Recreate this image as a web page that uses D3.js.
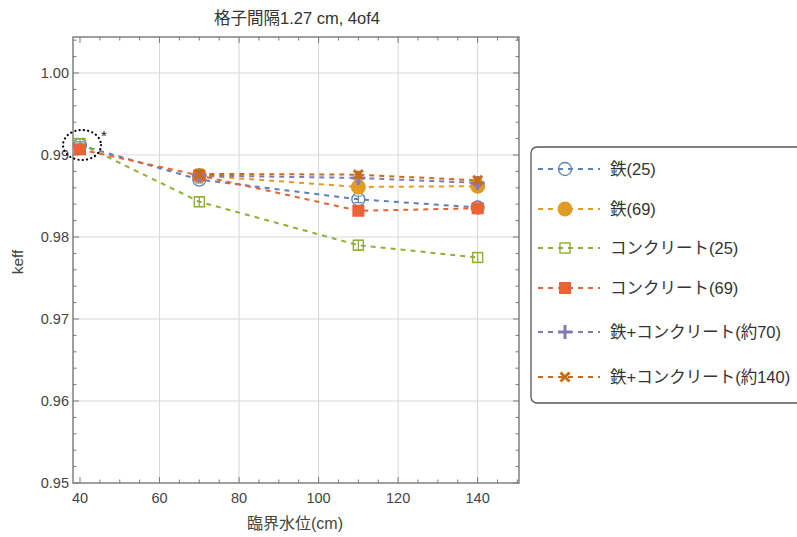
<!DOCTYPE html>
<html>
<head>
<meta charset="utf-8">
<script src="https://cdn.jsdelivr.net/npm/d3@7"></script>
<style>
  body { margin: 0; background: #fff; }
  text { font-family: "Liberation Sans", "Noto Sans CJK JP", sans-serif; }
</style>
</head>
<body>
<div id="chart"></div>
<script>
// data
var seriesNames = ["鉄(25)", "鉄(69)", "コンクリート(25)", "コンクリート(69)", "鉄+コンクリート(約70)", "鉄+コンクリート(約140)"];
var colors = ["#5e81b5", "#e19c24", "#8fb032", "#eb6235", "#8778b3", "#c56e1a"];
var symbols = ["openCircle", "circle", "openSquare", "square", "plus", "cross"];

var iron25 = [[40, 0.9912], [70, 0.9870], [110, 0.9846], [140, 0.9836]];
var iron69 = [[70, 0.9875], [110, 0.9861], [140, 0.9862]];
var conc25 = [[40, 0.9914], [70, 0.9843], [110, 0.9790], [140, 0.9775]];
var conc69 = [[40, 0.9907], [70, 0.9875], [110, 0.9832], [140, 0.9835]];
var ironConc70 = [[70, 0.9875], [110, 0.9872], [140, 0.9866]];
var ironConc140 = [[70, 0.9877], [110, 0.9876], [140, 0.9869]];
var errs = [0.0004, 0.0004, 0.0006, 0.0004, 0.0004, 0.0004];
var allSeries = [iron25, iron69, conc25, conc69, ironConc70, ironConc140];

var xTicks = [40, 60, 80, 100, 120, 140];
var yTicks = [0.95, 0.96, 0.97, 0.98, 0.99, 1.00];

var W = 797, H = 537;
var pLeft = 73, pRight = 519, pTop = 37, pBottom = 483;

var svg = d3.select("#chart").append("svg")
  .attr("width", W).attr("height", H);

var x = d3.scaleLinear().domain([38.24, 150.4]).range([pLeft, pRight]);
var y = d3.scaleLinear().domain([0.95, 1.00439]).range([pBottom, pTop]);

// grid
svg.append("g").selectAll("line").data(xTicks.slice(1)).enter().append("line")
  .attr("x1", function(d) { return x(d); }).attr("x2", function(d) { return x(d); })
  .attr("y1", pTop).attr("y2", pBottom)
  .attr("stroke", "#d8d8d8").attr("stroke-width", 1);
svg.append("g").selectAll("line").data(yTicks.slice(1)).enter().append("line")
  .attr("x1", pLeft).attr("x2", pRight)
  .attr("y1", function(d) { return y(d); }).attr("y2", function(d) { return y(d); })
  .attr("stroke", "#d8d8d8").attr("stroke-width", 1);

// ticks on all four sides
var tickCol = "#777";
var xMinor = d3.range(40, 151, 5);
var yMinor = d3.range(0, 28).map(function(i) { return 0.95 + i * 0.002; });

function isMajorX(d) { return d % 20 === 0; }
function isMajorY(d) { return Math.abs(Math.round(d * 100) - d * 100) < 1e-6; }

var tk = svg.append("g").attr("stroke", tickCol).attr("stroke-width", 1);
xMinor.forEach(function(d) {
  var len = isMajorX(d) ? 6 : 3.5;
  tk.append("line").attr("x1", x(d)).attr("x2", x(d)).attr("y1", pBottom).attr("y2", pBottom - len);
  tk.append("line").attr("x1", x(d)).attr("x2", x(d)).attr("y1", pTop).attr("y2", pTop + len);
});
yMinor.forEach(function(d) {
  if (y(d) < pTop) return;
  var len = isMajorY(d) ? 6 : 3.5;
  tk.append("line").attr("x1", pLeft).attr("x2", pLeft + len).attr("y1", y(d)).attr("y2", y(d));
  tk.append("line").attr("x1", pRight).attr("x2", pRight - len).attr("y1", y(d)).attr("y2", y(d));
});

svg.append("rect")
  .attr("x", pLeft).attr("y", pTop)
  .attr("width", pRight - pLeft).attr("height", pBottom - pTop)
  .attr("fill", "none").attr("stroke", "#808080").attr("stroke-width", 1.5);

// tick labels
svg.append("g").selectAll("text").data(xTicks).enter().append("text")
  .attr("x", function(d) { return x(d); }).attr("y", pBottom + 20)
  .attr("text-anchor", "middle").attr("font-size", 14.5).attr("fill", "#444")
  .text(function(d) { return d; });
svg.append("g").selectAll("text").data(yTicks).enter().append("text")
  .attr("x", pLeft - 4).attr("y", function(d) { return y(d) + 5; })
  .attr("text-anchor", "end").attr("font-size", 14.5).attr("fill", "#444")
  .text(function(d) { return d3.format(".2f")(d); });

// labels
svg.append("text").attr("x", 297).attr("y", 24).attr("text-anchor", "middle")
  .attr("font-size", 16.5).attr("fill", "#333").text("格子間隔1.27 cm, 4of4");
svg.append("text").attr("x", 295).attr("y", 529).attr("text-anchor", "middle")
  .attr("font-size", 16).attr("fill", "#444").text("臨界水位(cm)");
svg.append("text").attr("transform", "translate(23,262) rotate(-90)")
  .attr("text-anchor", "middle").attr("font-size", 15.5).attr("fill", "#444").text("keff");

// markers
function drawMarker(g, type, color, cx, cy) {
  if (type === "openCircle") {
    g.append("circle").attr("cx", cx).attr("cy", cy).attr("r", 6.5)
      .attr("fill", "none").attr("stroke", color).attr("stroke-width", 1.3);
  } else if (type === "circle") {
    g.append("circle").attr("cx", cx).attr("cy", cy).attr("r", 7.5).attr("fill", color);
  } else if (type === "openSquare") {
    g.append("rect").attr("x", cx - 5).attr("y", cy - 5).attr("width", 10).attr("height", 10)
      .attr("fill", "none").attr("stroke", color).attr("stroke-width", 1.4);
  } else if (type === "square") {
    g.append("rect").attr("x", cx - 6).attr("y", cy - 6).attr("width", 12).attr("height", 12)
      .attr("fill", color);
  } else if (type === "plus") {
    g.append("path").attr("d", "M" + (cx - 7) + "," + cy + "H" + (cx + 7) + "M" + cx + "," + (cy - 7) + "V" + (cy + 7))
      .attr("stroke", color).attr("stroke-width", 3);
  } else if (type === "cross") {
    g.append("path").attr("d", "M" + (cx - 4.5) + "," + (cy - 4.5) + "L" + (cx + 4.5) + "," + (cy + 4.5) +
      "M" + (cx - 4.5) + "," + (cy + 4.5) + "L" + (cx + 4.5) + "," + (cy - 4.5))
      .attr("stroke", color).attr("stroke-width", 3);
  }
}

var line = d3.line().x(function(d) { return x(d[0]); }).y(function(d) { return y(d[1]); });

allSeries.forEach(function(data, i) {
  svg.append("path").datum(data).attr("d", line)
    .attr("fill", "none").attr("stroke", colors[i]).attr("stroke-width", 2)
    .attr("stroke-dasharray", "5,5");
});

allSeries.forEach(function(data, i) {
  var g = svg.append("g");
  data.forEach(function(d) {
    var cx = x(d[0]), y1 = y(d[1] - errs[i]), y2 = y(d[1] + errs[i]);
    g.append("path").attr("d", "M" + cx + "," + y1 + "V" + y2 +
      "M" + (cx - 4) + "," + y1 + "H" + (cx + 4) + "M" + (cx - 4) + "," + y2 + "H" + (cx + 4))
      .attr("stroke", colors[i]).attr("stroke-width", 1.2).attr("fill", "none");
    drawMarker(g, symbols[i], colors[i], cx, y(d[1]));
  });
});

// annotation around the 40 cm cluster
svg.append("ellipse").attr("cx", 82).attr("cy", 145).attr("rx", 19).attr("ry", 15)
  .attr("fill", "none").attr("stroke", "#000").attr("stroke-width", 2.2)
  .attr("stroke-dasharray", "0.1,4.2").attr("stroke-linecap", "round");
svg.append("text").attr("x", 104).attr("y", 141).attr("text-anchor", "middle")
  .attr("font-size", 15).attr("fill", "#222").text("*");

// legend
var lg = svg.append("g");
lg.append("rect").attr("x", 531).attr("y", 147).attr("width", 280).attr("height", 256)
  .attr("rx", 6).attr("fill", "#fff").attr("stroke", "#555").attr("stroke-width", 1.3);
var legendY = [169, 209, 248, 288, 332, 377];
seriesNames.forEach(function(name, i) {
  var ly = legendY[i];
  lg.append("line").attr("x1", 538).attr("x2", 600).attr("y1", ly).attr("y2", ly)
    .attr("stroke", colors[i]).attr("stroke-width", 2).attr("stroke-dasharray", "5,5");
  drawMarker(lg, symbols[i], colors[i], 565, ly);
  lg.append("text").attr("x", 610).attr("y", ly + 6).attr("font-size", 16.5).attr("fill", "#333")
    .text(name);
});
</script>
</body>
</html>
